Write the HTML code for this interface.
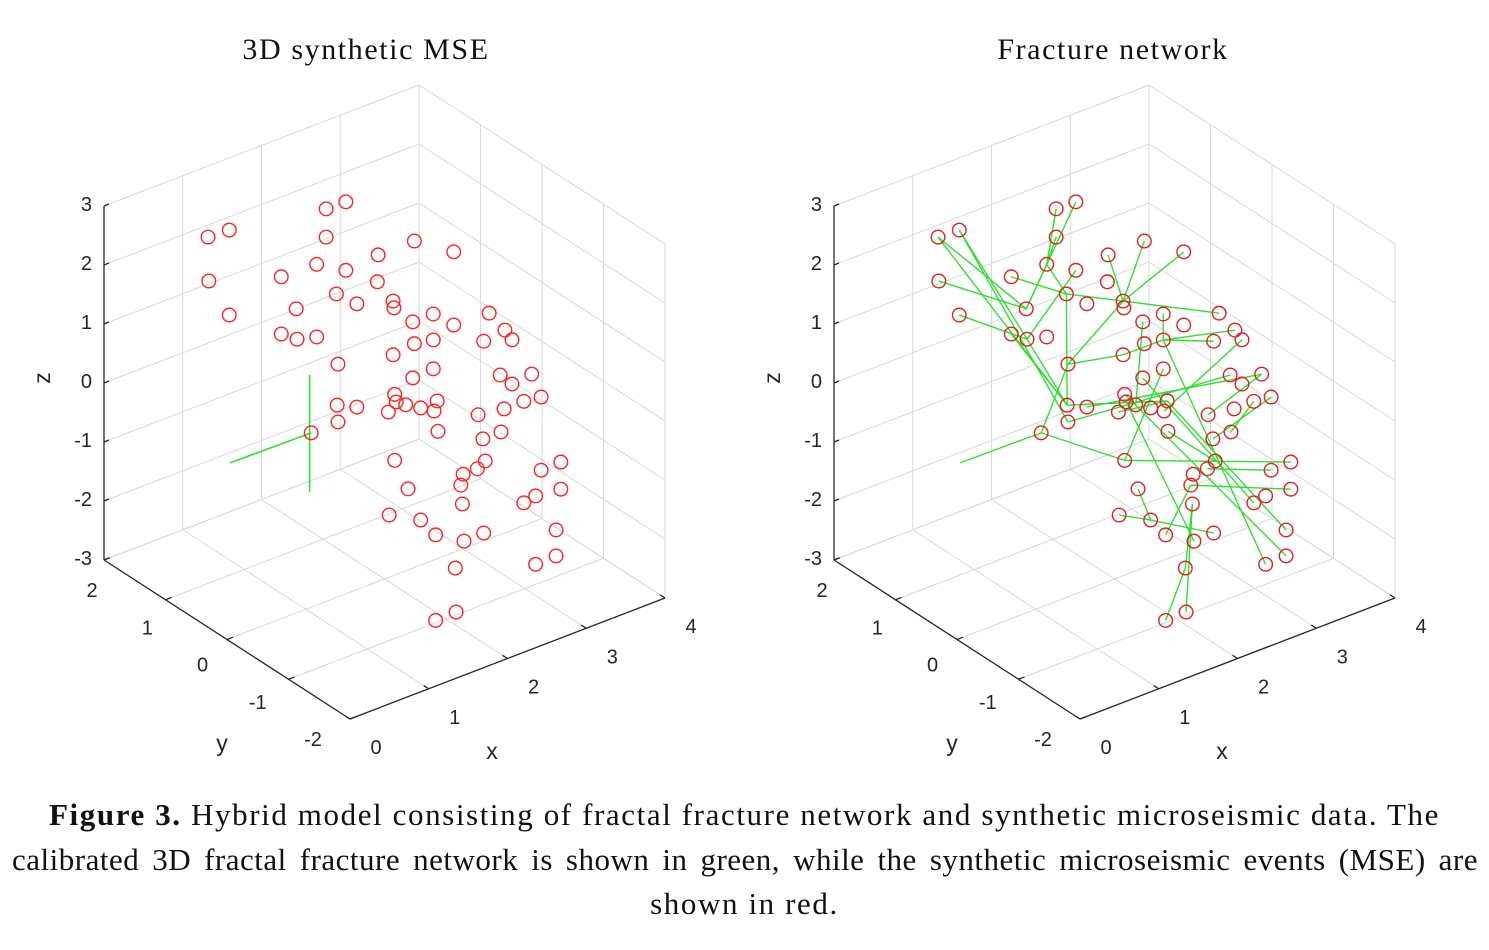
<!DOCTYPE html>
<html><head><meta charset="utf-8"><style>
html,body{margin:0;padding:0;background:#fff;width:1489px;height:950px;overflow:hidden}
svg{display:block}
.cap{position:absolute;left:0;width:1489px;font-family:"Liberation Serif",serif;font-size:31px;letter-spacing:1.6px;color:#111;white-space:nowrap}
</style></head><body>
<div style="position:relative;width:1489px;height:950px">
<svg id="fig" width="1489" height="950">
<text x="366" y="59" text-anchor="middle" font-family="Liberation Serif, serif" font-size="30" letter-spacing="1.6" fill="#111">3D synthetic MSE</text>
<text x="1113" y="59" text-anchor="middle" font-family="Liberation Serif, serif" font-size="30" letter-spacing="1.6" fill="#111">Fracture network</text>
</svg>
<div class="cap" style="top:797px;text-align:center"><b>Figure 3.</b> Hybrid model consisting of fractal fracture network and synthetic microseismic data. The</div>
<div class="cap" style="top:842px;left:12px;width:1466px;text-align:justify;text-align-last:justify;letter-spacing:0.5px">calibrated 3D fractal fracture network is shown in green, while the synthetic microseismic events (MSE) are</div>
<div class="cap" style="top:886px;text-align:center">shown in red.</div>
</div>
<script>
const xTicks=[0,1,2,3,4];
const yTicks=[-2,-1,0,1,2];
const zTicks=[-3,-2,-1,0,1,2,3];
const eventX=[0.54,0.81,0.55,0.81,2.04,2.29,2.04,1.47,1.92,2.29,2.70,3.16,3.66,2.69,2.17,2.43,1.66,2.89,2.90,1.47,1.67,1.92,3.14,3.40,3.66,3.40,3.16,2.89,2.19,3.40,3.14,4.11,4.31,4.40,4.04,4.25,4.65,4.40,4.77,4.55,4.30,2.91,2.93,2.83,3.05,3.24,3.41,3.45,3.46,2.43,2.18,2.19,1.85,3.97,4.26,4.03,4.06,3.96,3.78,3.75,2.91,3.08,3.77,2.84,3.24,3.43,3.79,4.04,4.55,4.70,4.77,5.02,5.02,4.96,4.96,4.70,3.68,3.69,3.43];
const eventY=new Array(79).fill(1);
const eventZ=[2.87,2.85,2.12,1.41,2.58,2.57,2.10,1.72,1.70,1.41,1.46,1.46,1.02,1.01,1.07,0.77,1.08,0.58,0.46,0.75,0.56,0.47,0.10,0.10,-0.22,-0.34,-0.28,-0.33,-0.13,-0.83,-0.85,-0.25,-0.64,-0.85,-0.69,-1.37,-1.56,-1.60,-2.01,-1.97,-1.97,-1.01,-1.15,-1.27,-1.26,-1.41,-1.55,-1.40,-1.92,-0.98,-0.82,-1.11,-1.12,-1.90,-2.34,-2.34,-2.73,-2.81,-2.81,-2.98,-2.13,-2.70,-3.31,-3.02,-3.31,-3.66,-3.95,-3.94,-3.69,-3.65,-3.25,-3.24,-3.70,-4.36,-4.80,-4.81,-4.35,-5.10,-5.11];
const fracFrom=[1,2,3,4,5,6,7,9,9,8,15,10,11,12,13,18,18,29,15,20,21,29,28,26,26,26,23,53,61,61,51,50,52,42,48,26,63,77,63,60,58,62,65,64,66,69,56,54,55,1,2,44,47,49,43];
const fracTo=[17,21,17,21,9,17,9,17,15,15,18,21,18,18,18,32,29,53,51,51,51,28,26,35,33,24,45,61,72,30,48,37,36,75,74,76,77,79,78,73,71,65,68,65,60,31,39,37,40,51,52,48,34,57,67];
const seedX1=[0.82,1.83], seedY1=[1,1], seedZ1=[-1.10,-0.13];
const seedX2=[1.85,1.83], seedY2=[1,1], seedZ2=[-1.12,-2.11];
const NS='http://www.w3.org/2000/svg';
const svg=document.getElementById('fig');
function P(off,x,y,z){return [350+off+x*78.75+(y+2)*(-61.5), 719+x*(-30.25)+(y+2)*(-39.75)-(z+3)*59];}
function mk(tag,attrs,parent){const e=document.createElementNS(NS,tag);for(const k in attrs)e.setAttribute(k,attrs[k]);(parent||svg).appendChild(e);return e;}
function line(g,a,b,stroke,w){return mk('line',{x1:a[0],y1:a[1],x2:b[0],y2:b[1],stroke:stroke,'stroke-width':w},g);}
function txt(g,x,y,s,anchor,fs){const t=mk('text',{x:x,y:y,'text-anchor':anchor||'middle','font-family':'Liberation Sans, sans-serif','font-size':fs||20,fill:'#262626'},g);t.textContent=s;return t;}
function panel(off,name,showNetwork){
  const g=mk('g',{});
  
  
  const gc='#d8d8d8';
  const grid=mk('g',{},g);
  
  
  xTicks.forEach(x=>{line(grid,P(off,x,2,-3),P(off,x,2,3),gc,1);line(grid,P(off,x,-2,-3),P(off,x,2,-3),gc,1);});
  yTicks.forEach(y=>{line(grid,P(off,4,y,-3),P(off,4,y,3),gc,1);line(grid,P(off,0,y,-3),P(off,4,y,-3),gc,1);});
  zTicks.forEach(z=>{line(grid,P(off,0,2,z),P(off,4,2,z),gc,1);line(grid,P(off,4,2,z),P(off,4,-2,z),gc,1);});
  const ax=mk('g',{},g);
  
  
  const k='#262626';
  line(ax,P(off,0,2,-3),P(off,0,2,3),k,1.3);
  line(ax,P(off,0,2,-3),P(off,0,-2,-3),k,1.3);
  line(ax,P(off,0,-2,-3),P(off,4,-2,-3),k,1.3);
  zTicks.forEach(z=>{const p=P(off,0,2,z);line(ax,p,[p[0]+5,p[1]-2],k,1.3);const t=txt(ax,p[0]-12,p[1]+5,String(z),'end');});
  yTicks.forEach(y=>{const p=P(off,0,y,-3);line(ax,p,[p[0]+6,p[1]-2.3],k,1.3);const t=txt(ax,p[0]-12-(2-y)*6.25,p[1]+37-(2-y)*2.5,String(y));});
  xTicks.forEach(x=>{const p=P(off,x,-2,-3);line(ax,p,[p[0]-5,p[1]-3.2],k,1.3);const t=txt(ax,p[0]+26,p[1]+35,String(x));});
  const zl=txt(ax,0,0,'z','middle',23);zl.setAttribute('transform','translate('+(50+off)+',378) rotate(-90)');
  
  const yl=txt(ax,222+off,751,'y','middle',23);
  
  const xl=txt(ax,492+off,759,'x','middle',23);
  
  const net=mk('g',{},g);
  
  
  const green='#33dd33';
  if(showNetwork){
    fracFrom.forEach((a,i)=>{const b=fracTo[i];const l=line(net,P(off,eventX[a-1],eventY[a-1],eventZ[a-1]),P(off,eventX[b-1],eventY[b-1],eventZ[b-1]),green,1.4);
      });
    const l=line(net,P(off,seedX1[0],seedY1[0],seedZ1[0]),P(off,seedX2[0],seedY2[0],seedZ2[0]),green,1.4);
    
  } else {
    seedX1.forEach((v,i)=>{const l=line(net,P(off,seedX1[i],seedY1[i],seedZ1[i]),P(off,seedX2[i],seedY2[i],seedZ2[i]),green,1.6);
      });
  }
  const ev=mk('g',{},g);
  
  
  eventX.forEach((x,i)=>{const p=P(off,x,eventY[i],eventZ[i]);const c=mk('circle',{cx:p[0],cy:p[1],r:6.8,fill:'none',stroke:showNetwork?'#d22':'#f22','stroke-width':1.4},ev);
    
    });
}
panel(0,'left-panel-mse',false);
panel(730,'right-panel-network',true);
</script>
</body></html>
